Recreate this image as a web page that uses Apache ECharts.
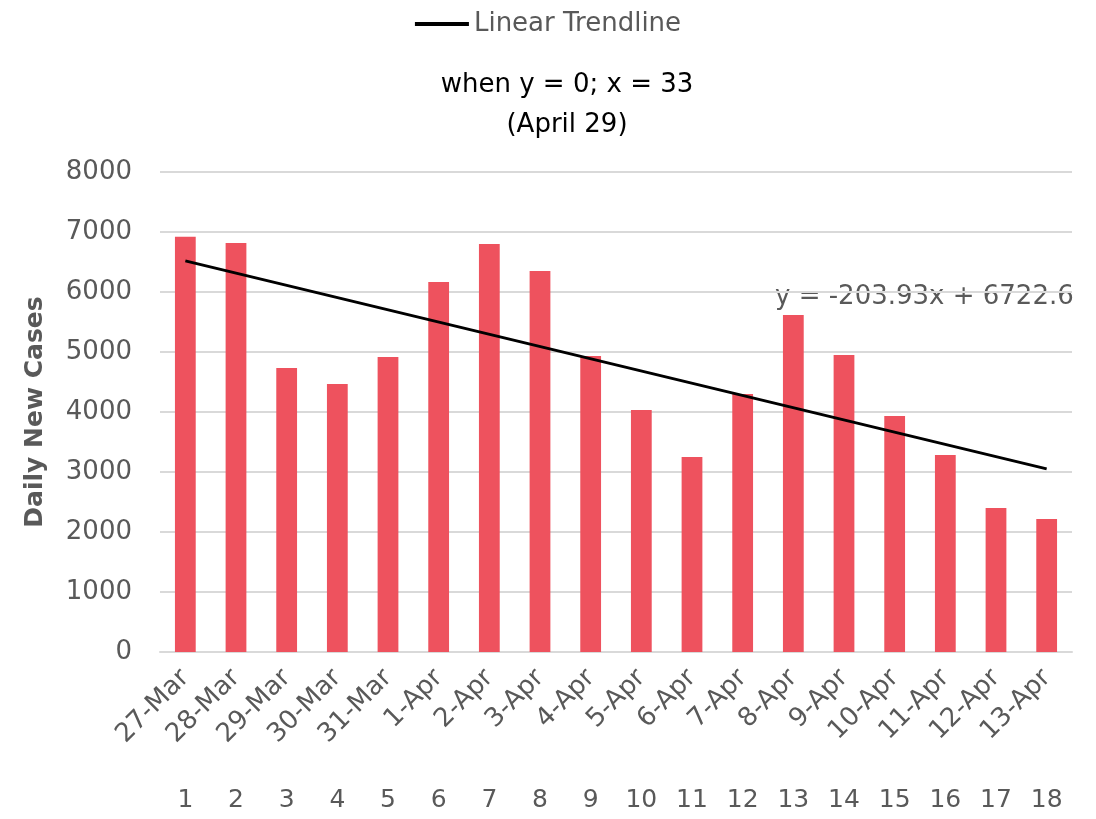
<!DOCTYPE html>
<html>
<head>
<meta charset="utf-8">
<script src="https://cdn.jsdelivr.net/npm/echarts@6/dist/echarts.min.js"></script>
<style>
  html, body { margin: 0; padding: 0; background: #fff; }
  #chart { width: 1096px; height: 819px; }
</style>
</head>
<body>
<div id="chart"></div>
<script>
// Daily new cases, 27-Mar to 13-Apr
const dates = ['27-Mar', '28-Mar', '29-Mar', '30-Mar', '31-Mar', '1-Apr', '2-Apr', '3-Apr', '4-Apr',
    '5-Apr', '6-Apr', '7-Apr', '8-Apr', '9-Apr', '10-Apr', '11-Apr', '12-Apr', '13-Apr'];
const dayNumbers = ['1', '2', '3', '4', '5', '6', '7', '8', '9', '10', '11', '12', '13', '14', '15', '16', '17', '18'];
const dailyCases = [6922, 6817, 4733, 4467, 4917, 6167, 6800, 6350, 4933,
    4033, 3250, 4300, 5617, 4950, 3933, 3283, 2400, 2217];
// trendline end points as shown (y = -203.93x + 6722.6)
const trendDates = ['27-Mar', '13-Apr'];
const trendValues = [6519, 3052];
const yTicks = [0, 1000, 2000, 3000, 4000, 5000, 6000, 7000, 8000];

const font = '"DejaVu Sans", sans-serif';
const grey = '#595959';

const chart = echarts.init(document.getElementById('chart'));

const option = {
    animation: false,
    textStyle: { fontFamily: font },
    title: {
        text: 'when y = 0; x = 33\n(April 29)',
        left: 562,
        top: 60,
        textAlign: 'center',
        textStyle: { color: '#000', fontSize: 26, fontWeight: 'normal', lineHeight: 40, fontFamily: font }
    },
    legend: {
        top: 6,
        left: 'center',
        itemWidth: 54,
        itemHeight: 4,
        itemGap: 6,
        textStyle: { color: grey, fontSize: 26, fontFamily: font },
        data: [{ name: 'Linear Trendline', icon: 'rect' }]
    },
    grid: { left: 160, right: 24, top: 172, bottom: 167 },
    xAxis: [
        {
            type: 'category',
            data: dates,
            axisLine: { lineStyle: { color: '#d9d9d9', width: 2 } },
            axisTick: { show: false },
            axisLabel: { rotate: 45, color: grey, fontSize: 26, margin: 22, interval: 0, fontFamily: font }
        },
        {
            type: 'category',
            data: dayNumbers,
            position: 'bottom',
            offset: 128,
            axisLine: { show: false },
            axisTick: { show: false },
            axisLabel: { color: grey, fontSize: 25, interval: 0, fontFamily: font }
        }
    ],
    yAxis: {
        type: 'value',
        min: yTicks[0],
        max: yTicks[yTicks.length - 1],
        interval: 1000,
        name: 'Daily New Cases',
        nameLocation: 'middle',
        nameGap: 112,
        nameTextStyle: { color: grey, fontSize: 25, fontWeight: 'bold', fontFamily: font },
        axisLine: { show: false },
        axisTick: { show: false },
        axisLabel: { color: grey, fontSize: 26, margin: 28, fontFamily: font, formatter: v => String(v) },
        splitLine: { lineStyle: { color: '#d9d9d9', width: 2 } }
    },
    graphic: [{
        type: 'text',
        left: 775,
        top: 284,
        style: { text: 'y = -203.93x + 6722.6', fill: grey, fontSize: 26, fontFamily: font }
    }],
    series: [
        {
            name: 'Daily New Cases',
            type: 'bar',
            data: dailyCases,
            barWidth: '41%',
            itemStyle: { color: '#ee525e' }
        },
        {
            name: 'Linear Trendline',
            type: 'line',
            data: trendDates.map((d, i) => [d, trendValues[i]]),
            symbol: 'none',
            lineStyle: { color: '#000', width: 3 },
            itemStyle: { color: '#000' }
        }
    ]
};

chart.setOption(option);
</script>
</body>
</html>
